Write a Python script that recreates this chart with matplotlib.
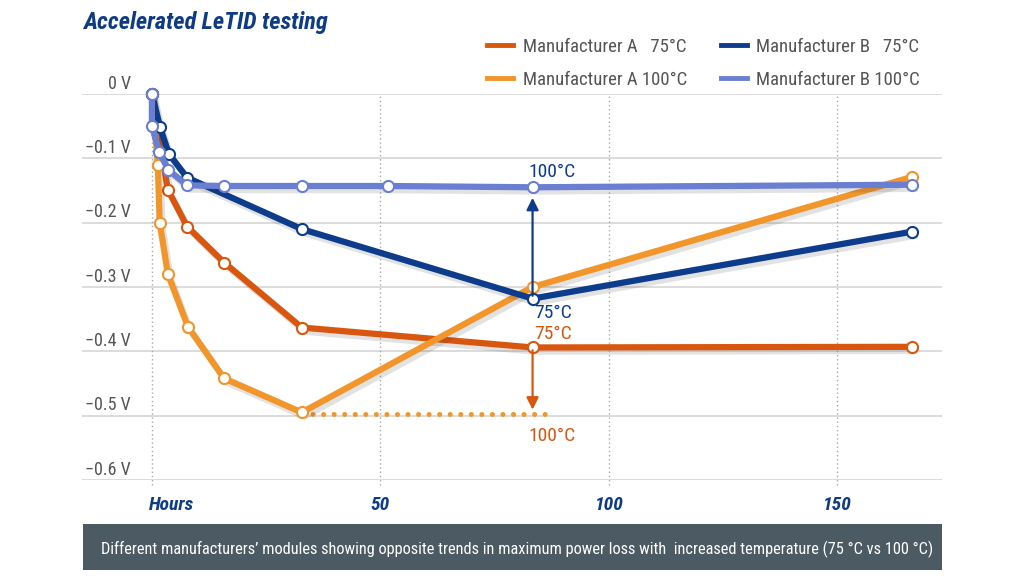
import matplotlib
matplotlib.use("Agg")
import matplotlib.pyplot as plt
import matplotlib.patheffects as pe
from matplotlib import font_manager
from matplotlib.patches import Rectangle

# pick a narrow font if there is one
def pick_font(names):
    for n in names:
        try:
            font_manager.findfont(n, fallback_to_default=False)
            return n
        except Exception:
            pass
    return "DejaVu Sans"

FONT = pick_font(["Liberation Sans Narrow", "Roboto Condensed", "Open Sans Condensed", "Roboto"])
plt.rcParams["font.family"] = [FONT, "DejaVu Sans"]

# data (hours, volts)
a75_x = [0, 3.5, 7.7, 15.8, 32.8, 83.3, 166.3]
a75_y = [0, -0.149, -0.206, -0.262, -0.363, -0.394, -0.393]
a100_x = [0, 1.3, 1.7, 3.5, 7.9, 15.8, 32.8, 83.3, 166.3]
a100_y = [0, -0.11, -0.2, -0.28, -0.362, -0.442, -0.495, -0.3, -0.129]
b75_x = [0, 1.8, 3.7, 7.7, 32.8, 83.3, 166.3]
b75_y = [0, -0.052, -0.093, -0.13, -0.21, -0.318, -0.214]
b100_x = [0, 0, 1.6, 3.6, 7.7, 15.8, 32.8, 51.6, 83.3, 166.3]
b100_y = [0, -0.05, -0.09, -0.118, -0.142, -0.143, -0.143, -0.143, -0.145, -0.141]
dotted_x = [32.8, 87.0]
dotted_y = [-0.497, -0.497]

yticks = [0, -0.1, -0.2, -0.3, -0.4, -0.5, -0.6]
ylabels = ["0 V", "\u22120.1 V", "\u22120.2 V", "\u22120.3 V", "\u22120.4 V", "\u22120.5 V", "\u22120.6 V"]
xticks = [4.4, 50, 100, 150]
xlabels = ["Hours", "50", "100", "150"]

c_a75 = "#d9560f"
c_a100 = "#f2952b"
c_b75 = "#0d3c8c"
c_b100 = "#6a7fd2"
navy = "#0d3b85"
gray = "#555555"

fig = plt.figure(figsize=(10.24, 5.76), dpi=100)
ax = fig.add_axes([82 / 1024, 1 - 480 / 576, 860 / 1024, 386 / 576])
ax.set_xlim(-15.3, 172.9)
ax.set_ylim(-0.6, 0)
ax.axis("off")

for v in yticks:
    ax.axhline(v, color="#d6d6d6", lw=1.2, zorder=1)
for v in [0, 50, 100, 150]:
    ax.vlines(v, -0.608, 0, colors="#aaaaaa", linestyles=(0, (1, 2)), lw=1, zorder=1, clip_on=False)

shadow = [pe.SimpleLineShadow(offset=(2, -3), alpha=0.14, shadow_color="#333333"), pe.Normal()]
series = [
    (a75_x, a75_y, c_a75, "Manufacturer A   75\u00b0C"),
    (a100_x, a100_y, c_a100, "Manufacturer A 100\u00b0C"),
    (b75_x, b75_y, c_b75, "Manufacturer B   75\u00b0C"),
    (b100_x, b100_y, c_b100, "Manufacturer B 100\u00b0C"),
]
handles = []
for i, (xs, ys, c, lab) in enumerate(series):
    ax.plot(xs, ys, color=c, lw=4.5, solid_joinstyle="round", zorder=3 + i,
            path_effects=shadow, clip_on=False)
    ax.plot(xs, ys, ls="none", marker="o", ms=8, mfc="white", mec=c, mew=1.5,
            zorder=3 + i, clip_on=False)
    handles.append(plt.Line2D([], [], color=c, lw=3.5, label=lab))

ax.plot(dotted_x, dotted_y, color=c_a100, lw=3.6, ls=(0, (0.01, 2.1)),
        dash_capstyle="round", zorder=2)

# arrows + labels
ax.annotate("", xy=(83.3, -0.157), xytext=(83.3, -0.318),
            arrowprops=dict(arrowstyle="-|>", color=c_b75, lw=1.6, mutation_scale=18), zorder=8)
ax.annotate("", xy=(83.3, -0.495), xytext=(83.3, -0.394),
            arrowprops=dict(arrowstyle="-|>", color=c_a75, lw=1.6, mutation_scale=18), zorder=8)
ax.text(87.5, -0.121, "100\u00b0C", color=c_b75, fontsize=14, ha="center", va="center")
ax.text(87.7, -0.341, "75\u00b0C", color=c_b75, fontsize=14, ha="center", va="center")
ax.text(87.7, -0.373, "75\u00b0C", color=c_a75, fontsize=14, ha="center", va="center")
ax.text(87.5, -0.531, "100\u00b0C", color=c_a75, fontsize=14, ha="center", va="center")

ytr = ax.get_yaxis_transform()
for v, lab in zip(yticks, ylabels):
    ax.text(0.057, v + 0.016, lab, transform=ytr, ha="right", va="center", color=gray, fontsize=13)
xtr = ax.get_xaxis_transform()
for v, lab in zip(xticks, xlabels):
    ax.text(v, -0.065, lab, transform=xtr, ha="center", va="center", color=navy,
            fontsize=14, fontweight="bold", style="italic")

ax.text(0.982, -0.575, "Source: UNSW", transform=ax.transAxes, ha="right", va="center",
        color="#666666", fontsize=11)
fig.text(83 / 1024, 1 - 22 / 576, "Accelerated LeTID testing", color=navy, fontsize=17.5,
         fontweight="bold", style="italic", va="center", ha="left")

fig.legend(handles=handles, ncol=2, loc="upper left", bbox_to_anchor=(487 / 1024, 1 - 38 / 576),
           frameon=False, fontsize=13.5, handlelength=1.4, columnspacing=1.8, labelspacing=0.8,
           handletextpad=0.5, borderpad=0, borderaxespad=0, labelcolor=gray)

fig.patches.append(Rectangle((83 / 1024, 6 / 576), 859 / 1024, 46 / 576, transform=fig.transFigure,
                             facecolor="#4b5a63", edgecolor="none"))
fig.text(517 / 1024, 1 - 549 / 576,
         "Different manufacturers\u2019 modules showing opposite trends in maximum power loss with  increased temperature (75 \u00b0C vs 100 \u00b0C)",
         color="white", fontsize=11.8, ha="center", va="center")

fig.savefig("out.png", dpi=100, facecolor="white")
